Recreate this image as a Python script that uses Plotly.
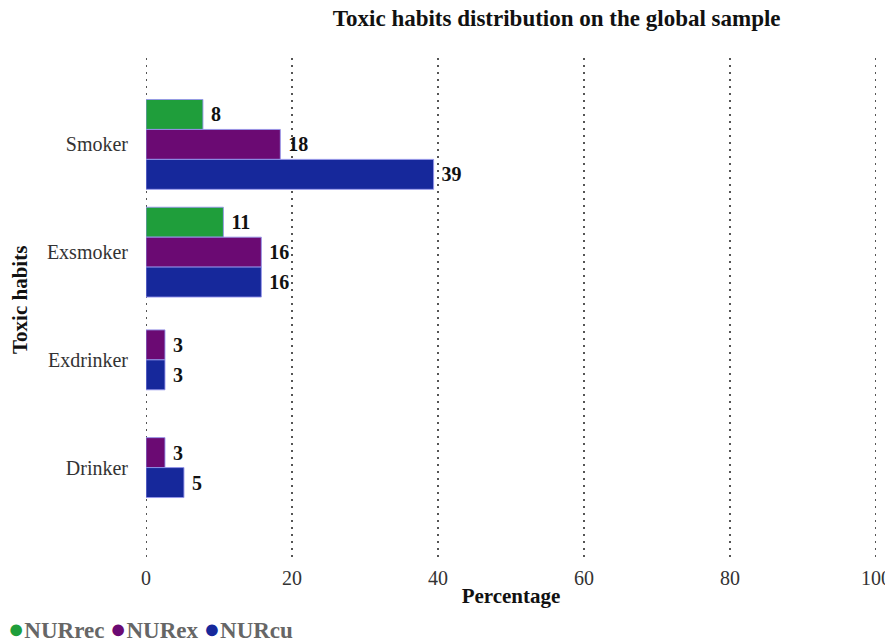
import plotly.graph_objects as go

categories = ["Smoker", "Exsmoker", "Exdrinker", "Drinker"]
series_names = ["NURrec", "NURex", "NURcu"]
nurrec = [7.8, 10.6, None, None]
nurex = [18.4, 15.8, 2.6, 2.6]
nurcu = [39.4, 15.8, 2.6, 5.2]
colors = ["#1f9e3b", "#6b0a73", "#16289b"]
x_ticks = [0, 20, 40, 60, 80, 100]

values = [nurrec, nurex, nurcu]
bar_w = 0.278
FONT = "Liberation Serif"

fig = go.Figure()
for s, (name, vals, col) in enumerate(zip(series_names, values, colors)):
    ys, xs, txt = [], [], []
    for i, v in enumerate(vals):
        if v is None:
            continue
        present = [k for k in range(len(values)) if values[k][i] is not None]
        n = len(present)
        pos = present.index(s)
        ys.append(i + (pos - (n - 1) / 2) * bar_w)
        xs.append(v)
        txt.append(f"{int(v + 0.5):d}")
    fig.add_trace(go.Bar(
        x=xs, y=ys, orientation="h", width=bar_w, name=name,
        marker=dict(color=col, line=dict(color="rgba(150,150,235,0.9)", width=1)),
        text=txt, textposition="outside", cliponaxis=False,
        textfont=dict(family=FONT, size=20, color="#111"),
        texttemplate=" <b>%{text}</b>",
        showlegend=False,
    ))

# dotted vertical grid lines at every x tick (including the 0 and 100 edges)
for t in x_ticks:
    fig.add_shape(type="line", xref="x", yref="paper", x0=t, x1=t, y0=0, y1=1,
                  layer="below", line=dict(color="#555", width=2, dash="2px,5px"))

legend_text = "<b>" + " ".join(
    f"<span style='color:{c};font-size:27px'>●</span>{n}" for n, c in zip(series_names, colors)
) + "</b>"

fig.update_layout(
    width=885, height=632,
    barmode="overlay",
    showlegend=False,
    paper_bgcolor="white", plot_bgcolor="white",
    margin=dict(l=138, r=17, t=47, b=83, autoexpand=False),
    font=dict(family=FONT, size=20, color="#222"),
    title=dict(text="<b>Toxic habits distribution on the global sample</b>",
               x=0.62, xanchor="center", xref="container",
               yref="container", y=0.984, yanchor="middle",
               font=dict(family=FONT, size=23, color="#111")),
    xaxis=dict(range=[0, 100], tickvals=x_ticks, showgrid=False,
               zeroline=False, showline=False, ticks="outside", ticklen=3,
               tickcolor="rgba(0,0,0,0)", automargin=False,
               title=dict(text="<b>Percentage</b>", standoff=0,
                          font=dict(size=21, color="#111")),
               tickfont=dict(size=20, color="#333")),
    yaxis=dict(range=[3.83, -0.83], tickvals=list(range(len(categories))),
               ticktext=categories, showgrid=False, zeroline=False,
               showline=False, ticks="outside", ticklen=13, tickcolor="rgba(0,0,0,0)",
               automargin=False,
               tickfont=dict(size=20, color="#333")),
    annotations=[
        dict(text=legend_text, xref="paper", yref="paper",
             x=-140/730, y=-0.1434, xanchor="left", yanchor="middle",
             showarrow=False, font=dict(family=FONT, size=23, color="#666")),
        dict(text="<b>Toxic habits</b>", xref="paper", yref="paper",
             x=-126/730, y=0.512, xanchor="center", yanchor="middle",
             textangle=-90, showarrow=False,
             font=dict(family=FONT, size=21, color="#111")),
    ],
)
fig.write_html("out.html")
